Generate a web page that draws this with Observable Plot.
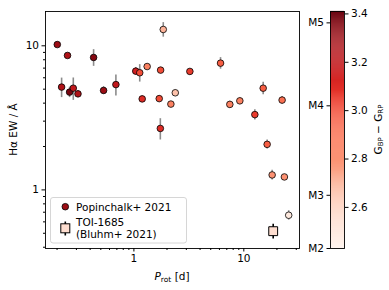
<!DOCTYPE html>
<html>
<head>
<meta charset="utf-8">
<script src="https://cdn.jsdelivr.net/npm/d3@7"></script>
<script src="https://cdn.jsdelivr.net/npm/@observablehq/plot@0.6"></script>
<style>
  body { margin: 0; background: white; }
  #wrap { position: relative; width: 389px; height: 290px; font-family: "DejaVu Sans", sans-serif; }
  #wrap svg { position: absolute; top: 0; }
</style>
</head>
<body>
<div id="wrap"></div>
<script>
// Popinchalk+ 2021 sample
const prot = [0.201, 0.249, 0.22, 0.26, 0.281, 0.31, 0.43, 0.53, 0.686, 1.04, 1.13, 1.19, 1.32, 1.75, 1.70, 1.74, 1.85, 2.17, 2.38, 3.23, 6.14, 7.46, 9.2, 12.6, 15.0, 16.3, 18.1, 22.3, 23.4, 25.6];
const ew   = [10.2, 8.57, 5.17, 4.77, 5.08, 4.64, 8.3, 4.9, 5.38, 6.67, 6.5, 4.28, 7.18, 6.78, 4.3, 2.67, 12.98, 3.94, 4.72, 6.64, 7.58, 3.92, 4.15, 3.33, 5.08, 2.07, 1.27, 4.2, 1.23, 0.667];
const ewErr = [0.3, 0.3, 0.8, 0.4, 0.9, 0.25, 1.1, 0.3, 0.9, 0.4, 0.9, 0.2, 0.2, 0.3, 0.2, 0.45, 1.5, 0.15, 0.2, 0.25, 0.7, 0.2, 0.2, 0.27, 0.5, 0.15, 0.1, 0.25, 0.05, 0.05];
const bpRp = [3.3, 3.25, 3.25, 3.38, 3.2, 3.25, 3.35, 3.3, 3.2, 3.15, 3.0, 3.1, 2.85, 3.0, 3.0, 3.1, 2.7, 2.85, 2.65, 3.05, 2.95, 2.85, 2.85, 3.05, 2.95, 2.95, 2.8, 2.9, 2.8, 2.5];
// TOI-1685 (Bluhm+ 2021)
const toiProt = [18.5];
const toiEw = [0.517];
const toiErr = [0.06];
const toiBpRp = [2.55];
// axes
const xMajor = [1, 10];
const xMinor = [0.2, 0.3, 0.4, 0.5, 0.6, 0.7, 0.8, 0.9, 2, 3, 4, 5, 6, 7, 8, 9, 20, 30];
const yMajor = [1, 10];
const yMinor = [0.4, 0.5, 0.6, 0.7, 0.8, 0.9, 2, 3, 4, 5, 6, 7, 8, 9];
const cbTicks = [2.6, 2.8, 3.0, 3.2, 3.4];
const spTypeColor = [2.43, 2.65, 3.02, 3.363];
const spTypeLabel = ["M2", "M3", "M4", "M5"];
const colorDomain = [2.43, 3.41];

const pop = prot.map((p, i) => ({p, ew: ew[i], lo: ew[i] - ewErr[i], hi: ew[i] + ewErr[i], c: bpRp[i]}));
const toi = toiProt.map((p, i) => ({p, ew: toiEw[i], lo: toiEw[i] - toiErr[i], hi: toiEw[i] + toiErr[i], c: toiBpRp[i]}));

const font = {fontFamily: "DejaVu Sans, sans-serif", fontSize: "10.5px", color: "black", background: "transparent", overflow: "visible"};

const main = Plot.plot({
  width: 389, height: 290,
  marginLeft: 45, marginRight: 90, marginTop: 11, marginBottom: 42,
  style: font,
  x: {type: "log", domain: [0.157, 32.1], label: null, axis: null},
  y: {type: "log", domain: [0.392, 17.3], label: null, axis: null},
  color: {type: "linear", scheme: "reds", domain: colorDomain},
  marks: [
    Plot.axisX({ticks: xMinor, tickSize: 2, tickFormat: () => "", label: null, stroke: "black"}),
    Plot.axisX({ticks: xMajor, tickSize: 3.5, tickPadding: 3, tickFormat: d => String(d), label: null, stroke: "black"}),
    Plot.axisY({ticks: yMinor, tickSize: 2, tickFormat: () => "", label: null, stroke: "black"}),
    Plot.axisY({ticks: yMajor, tickSize: 3.5, tickPadding: 3, tickFormat: d => String(d), label: null, stroke: "black"}),
    Plot.ruleX(pop, {x: "p", y1: "lo", y2: "hi", stroke: "#8c8c8c", strokeWidth: 1.6}),
    Plot.dot(pop, {x: "p", y: "ew", fill: "c", stroke: "black", strokeWidth: 0.8, r: 3.3}),
    Plot.ruleX(toi, {x: "p", y1: "lo", y2: "hi", stroke: "black", strokeWidth: 1.6}),
    Plot.dot(toi, {x: "p", y: "ew", fill: "c", stroke: "black", strokeWidth: 1, r: 5, symbol: "square"}),
    Plot.frame({stroke: "black", strokeWidth: 0.9})
  ]
});

// colorbar
const slices = d3.range(240).map(i => {
  const a = colorDomain[0] + (colorDomain[1] - colorDomain[0]) * i / 240;
  const b = colorDomain[0] + (colorDomain[1] - colorDomain[0]) * (i + 1) / 240;
  return {y1: a, y2: b + 0.0005, c: (a + b) / 2};
});
const cb = Plot.plot({
  width: 89, height: 290,
  marginLeft: 30, marginRight: 45, marginTop: 11, marginBottom: 42,
  style: font,
  x: {domain: [0, 1], axis: null},
  y: {domain: colorDomain, axis: null, label: null},
  color: {type: "linear", scheme: "reds", domain: colorDomain},
  marks: [
    Plot.rect(slices, {x1: 0, x2: 1, y1: "y1", y2: "y2", fill: "c"}),
    Plot.frame({stroke: "black", strokeWidth: 0.9}),
    Plot.axisY({anchor: "right", ticks: cbTicks, tickSize: 3.5, tickPadding: 3, tickFormat: d => d.toFixed(1), label: null, stroke: "black"}),
    Plot.axisY({anchor: "left", ticks: spTypeColor, tickSize: 3.5, tickPadding: 3, tickFormat: d => spTypeLabel[spTypeColor.indexOf(d)], label: null, stroke: "black"})
  ]
});
cb.style.left = "300px";

const wrap = document.getElementById("wrap");
wrap.appendChild(main);
wrap.appendChild(cb);

// axis titles
const ms = d3.select(main);
ms.append("text")
  .attr("transform", "translate(13,129.5) rotate(-90)")
  .attr("text-anchor", "middle").attr("dominant-baseline", "central")
  .attr("font-size", "10.5px").attr("fill", "black")
  .text("Hα EW / Å");
const xl = ms.append("text")
  .attr("x", 172).attr("y", 276).attr("text-anchor", "middle")
  .attr("dominant-baseline", "central").attr("font-size", "10.5px").attr("fill", "black");
xl.append("tspan").attr("font-style", "italic").text("P");
xl.append("tspan").attr("font-size", "7.5px").attr("dy", "2.5").text("rot");
xl.append("tspan").attr("dy", "-2.5").text(" [d]");

const cs = d3.select(cb);
const cl = cs.append("text")
  .attr("transform", "translate(78,129.5) rotate(-90)")
  .attr("text-anchor", "middle").attr("dominant-baseline", "central")
  .attr("font-size", "10.5px").attr("fill", "black");
cl.append("tspan").text("G");
cl.append("tspan").attr("font-size", "7px").attr("dy", "2.5").text("BP");
cl.append("tspan").attr("dy", "-2.5").text(" − G");
cl.append("tspan").attr("font-size", "7px").attr("dy", "2.5").text("RP");

// legend
const cScale = main.scale("color");
const lg = ms.append("g");
lg.append("rect").attr("x", 50.5).attr("y", 197.5).attr("width", 136).attr("height", 45.5)
  .attr("rx", 2.5).attr("fill", "white").attr("fill-opacity", 0.8).attr("stroke", "#cccccc").attr("stroke-width", 0.8);
lg.append("circle").attr("cx", 65.3).attr("cy", 206.7).attr("r", 3.3)
  .attr("fill", cScale.apply(3.3)).attr("stroke", "black").attr("stroke-width", 0.8);
lg.append("line").attr("x1", 65.3).attr("x2", 65.3).attr("y1", 221.5).attr("y2", 235.5).attr("stroke", "black").attr("stroke-width", 1.6);
lg.append("rect").attr("x", 60.8).attr("y", 223.8).attr("width", 9).attr("height", 9)
  .attr("fill", cScale.apply(2.55)).attr("stroke", "black").attr("stroke-width", 1);
const lt = [["Popinchalk+ 2021", 206.7], ["TOI-1685", 221.7], ["(Bluhm+ 2021)", 233.5]];
lt.forEach(([t, y]) => lg.append("text").attr("x", 76).attr("y", y).attr("dominant-baseline", "central")
  .attr("text-anchor", "start").attr("font-size", "10.5px").attr("fill", "black").text(t));
</script>
</body>
</html>
